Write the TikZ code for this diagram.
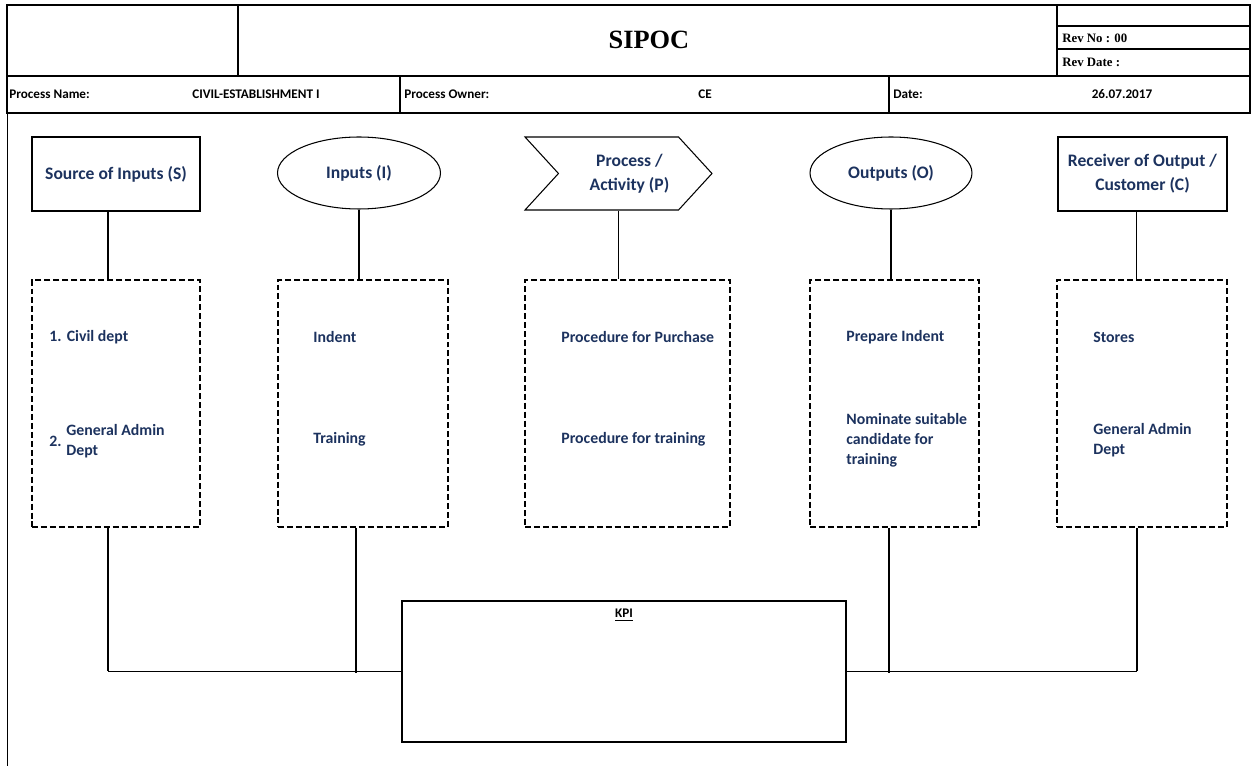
\documentclass[tikz,border=0pt]{standalone}
\usepackage{fontspec}
\setmainfont{Carlito}
\newfontfamily\cambria{Liberation Serif}
\usetikzlibrary{shapes.geometric,shapes.symbols}
\definecolor{navy}{RGB}{28,50,94}
\tikzset{
  cell/.style={font=\bfseries\fontsize{7.5}{9}\selectfont,inner sep=0pt},
  rev/.style={font=\cambria\bfseries\fontsize{7.3}{8}\selectfont,inner sep=0pt,anchor=west},
  head/.style={draw,line width=0.6pt,text=navy,font=\bfseries\fontsize{10}{13.5}\selectfont,align=center,inner sep=0pt},
  item/.style={text=navy,font=\bfseries\fontsize{9}{11.4}\selectfont,align=left,anchor=west,inner sep=0pt},
  dbox/.style={draw,line width=0.9pt,dash pattern=on 3.4pt off 1.7pt,minimum width=#1,minimum height=4.94cm,inner sep=0pt},
  link/.style={line width=0.8pt},
}
\begin{document}
\begin{tikzpicture}[x=0.02cm,y=-0.02cm]
\useasboundingbox (0,0) rectangle (1252,766);
% header grid
\draw[line width=1.1pt](7,113)--(7,5)--(1250,5)--(1250,113)--cycle;
\draw[line width=1.1pt](7,76)--(1250,76);
\draw[line width=1.1pt](238,5)--(238,76)(1057,5)--(1057,76)(1057,26)--(1250,26)(1057,49)--(1250,49);
\draw[line width=1.1pt](400,76)--(400,113)(889,76)--(889,113);
\draw[line width=0.5pt](7,113)--(7,766);
\node[font=\cambria\bfseries\fontsize{15}{18}\selectfont](title)at(649,40){SIPOC};
\node[rev](revno)at(1062,38){Rev No : 00};
\node[rev](revdate)at(1062,62){Rev Date :};
\node[cell,anchor=west](pname)at(9,94){Process Name:};
\node[cell](pval)at(256,94){CIVIL-ESTABLISHMENT I};
\node[cell,anchor=west](powner)at(404,94){Process Owner:};
\node[cell](oval)at(705,94){CE};
\node[cell,anchor=west](date)at(893,94){Date:};
\node[cell](dval)at(1122,94){26.07.2017};
% SIPOC heads
\node[head,minimum width=3.36cm,minimum height=1.48cm](src)at(116,174){Source of Inputs (S)};
\node[head,ellipse,minimum width=3.26cm,minimum height=1.44cm](inp)at(359,173){Inputs (I)};
\node[head,signal,signal from=west,signal to=east,signal pointer angle=95,minimum width=3.74cm,minimum height=1.46cm](proc)at(618.5,173.5){\hspace*{0.44cm}Process /\\\hspace*{0.44cm}Activity (P)};
\node[head,ellipse,minimum width=3.24cm,minimum height=1.44cm](outp)at(891,173){Outputs (O)};
\node[head,minimum width=3.38cm,minimum height=1.48cm](recv)at(1142.5,174){Receiver of Output /\\Customer (C)};
% dashed lists
\node[dbox=3.36cm](sbox)at(116,403.5){};
\node[dbox=3.4cm](ibox)at(363,403.5){};
\node[dbox=4.1cm](pbox)at(627.5,403.5){};
\node[dbox=3.38cm](obox)at(894.5,403.5){};
\node[dbox=3.4cm](rbox)at(1142,403.5){};
\node[item](s1)at(49,337){1.\hspace{3pt}Civil dept};
\node[item](s2n)at(49,441){2.};
\node[item](s2)at(66,441){General Admin\\Dept};
\node[item](i1)at(313,337){Indent};
\node[item](i2)at(313,439){Training};
\node[item](p1)at(561,337){Procedure for Purchase};
\node[item](p2)at(561,439){Procedure for training};
\node[item](o1)at(846,337){Prepare Indent};
\node[item](o2)at(846,440){Nominate suitable\\candidate for\\training};
\node[item](r1)at(1093,337){Stores};
\node[item](r2)at(1093,440){General Admin\\Dept};
% KPI
\node[draw,line width=1.1pt,minimum width=8.88cm,minimum height=2.82cm](kpi)at(624,671.5){};
\node[font=\bfseries\fontsize{7.5}{9}\selectfont,inner sep=0pt](kpilbl)at(624,615){\underline{KPI}};
% links
\draw[link]([xshift=-0.16cm]src.south)--([xshift=-0.16cm]src.south|-sbox.north);
\draw[link](inp.south)--(inp.south|-ibox.north);
\draw[link](proc.south)--(proc.south|-pbox.north);
\draw[link](outp.south)--(outp.south|-obox.north);
\draw[link]([xshift=-0.12cm]recv.south)--([xshift=-0.12cm]recv.south|-rbox.north);
\draw[link]([xshift=-0.16cm]sbox.south)--([xshift=-0.16cm]sbox.south|-kpi.west);
\draw[link,line width=1.1pt]([xshift=-0.16cm]sbox.south|-kpi.west)--(kpi.west);
\draw[link]([xshift=-0.14cm]ibox.south)--([xshift=-0.14cm,yshift=-0.04cm]ibox.south|-kpi.west);
\draw[link]([xshift=-0.1cm]rbox.south)--([xshift=-0.1cm]rbox.south|-kpi.east);
\draw[link,line width=1.1pt]([xshift=-0.1cm]rbox.south|-kpi.east)--(kpi.east);
\draw[link]([xshift=-0.11cm]obox.south)--([xshift=-0.11cm,yshift=-0.04cm]obox.south|-kpi.east);
\end{tikzpicture}
\end{document}
